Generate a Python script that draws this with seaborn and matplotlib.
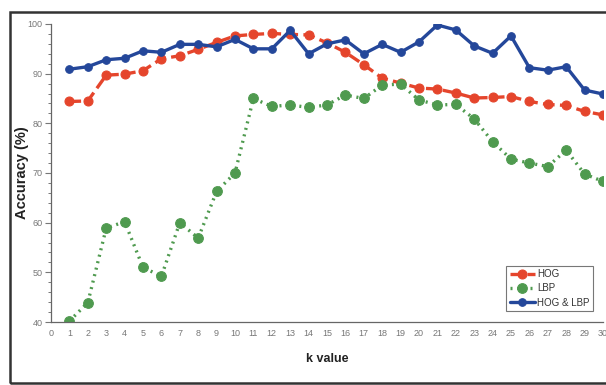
import matplotlib
matplotlib.use("Agg")
import matplotlib.pyplot as plt
import seaborn as sns
import pandas as pd
import numpy as np
from matplotlib.patches import Rectangle
from matplotlib.ticker import MultipleLocator

k_values = list(range(1, 31))
hog = [84.4, 84.5, 89.7, 89.9, 90.6, 93.0, 93.6, 94.9, 96.3, 97.6,
       97.9, 98.1, 97.9, 97.8, 96.2, 94.3, 91.8, 89.1, 88.1, 87.1,
       86.9, 86.1, 85.1, 85.2, 85.4, 84.4, 83.8, 83.6, 82.4, 81.7]
lbp = [40.2, 43.9, 58.9, 60.2, 51.0, 49.2, 60.0, 56.9, 66.3, 70.0,
       85.0, 83.4, 83.7, 83.2, 83.7, 85.7, 85.0, 87.7, 87.9, 84.7,
       83.7, 83.8, 80.9, 76.3, 72.8, 72.0, 71.3, 74.6, 69.8, 68.3]
hog_lbp = [90.9, 91.4, 92.8, 93.1, 94.6, 94.3, 95.9, 95.9, 95.4, 96.9,
           95.0, 95.0, 98.7, 94.0, 96.0, 96.8, 94.0, 95.9, 94.3, 96.4,
           99.8, 98.8, 95.6, 94.1, 97.6, 91.2, 90.7, 91.4, 86.7, 85.9]
series_names = ["HOG", "LBP", "HOG & LBP"]
x_ticks = list(range(0, 31))
y_ticks = [40, 50, 60, 70, 80, 90, 100]

sns.set_theme(style="white")
plt.rcParams['font.family'] = ['Liberation Sans', 'DejaVu Sans']

fig = plt.figure(figsize=(6.06, 3.85), dpi=100)
ax = fig.add_axes([0.0842, 0.1636, 0.9108, 0.7741])

df = pd.DataFrame({"k": k_values, "HOG": hog, "LBP": lbp, "HOG & LBP": hog_lbp})

sns.lineplot(data=df, x="k", y="HOG", ax=ax, color="#e5452c", linewidth=2.4,
             linestyle=(0, (3.5, 1.6)), marker="o", markersize=6.5,
             markeredgecolor="#e5452c", label=series_names[0])
sns.lineplot(data=df, x="k", y="LBP", ax=ax, color="#4f9a4f", linewidth=2.4,
             linestyle=(0, (0.6, 1.4)), marker="o", markersize=7,
             markeredgecolor="#4f9a4f", label=series_names[1])
sns.lineplot(data=df, x="k", y="HOG & LBP", ax=ax, color="#24479a", linewidth=2.4,
             linestyle="-", marker="o", markersize=5.5,
             markeredgecolor="#24479a", label=series_names[2])

ax.set_xlim(0, 30)
ax.set_ylim(40, 100)
ax.set_xticks(x_ticks)
ax.set_yticks(y_ticks)
ax.yaxis.set_minor_locator(MultipleLocator(2))
ax.tick_params(axis="x", direction="in", length=4, width=0.8, colors="#777777",
               labelsize=6.5, labelcolor="#777777", pad=5)
ax.tick_params(axis="y", which="major", direction="out", length=4, width=0.8,
               colors="#777777", labelsize=6.5, labelcolor="#777777", left=True, pad=2)
ax.tick_params(axis="y", which="minor", direction="out", length=2.5, width=0.7,
               colors="#777777", left=True)
for s in ["top", "right"]:
    ax.spines[s].set_visible(False)
for s in ["left", "bottom"]:
    ax.spines[s].set_color("#666666")
    ax.spines[s].set_linewidth(0.9)

ax.set_xlabel("k value", fontsize=9, fontweight="bold", color="#222222")
ax.set_ylabel("Accuracy (%)", fontsize=10.5, fontweight="bold", color="#222222")
ax.xaxis.set_label_coords(0.5, -0.105)
ax.yaxis.set_label_coords(-0.040, 0.5)

leg = ax.legend(loc="lower right", bbox_to_anchor=(0.985, 0.03), fontsize=7,
                frameon=True, fancybox=False, handlelength=2.6, handletextpad=0.2,
                borderpad=0.35, labelspacing=0.45, borderaxespad=0.2)
leg.get_frame().set_edgecolor("#555555")
leg.get_frame().set_linewidth(0.8)
for t in leg.get_texts():
    t.set_color("#333333")

fig.patches.append(Rectangle((10 / 606, 2 / 385), 1.0, 371 / 385, transform=fig.transFigure,
                             fill=False, edgecolor="#333333", linewidth=1.8, zorder=10))

fig.savefig("out.png", dpi=100)
